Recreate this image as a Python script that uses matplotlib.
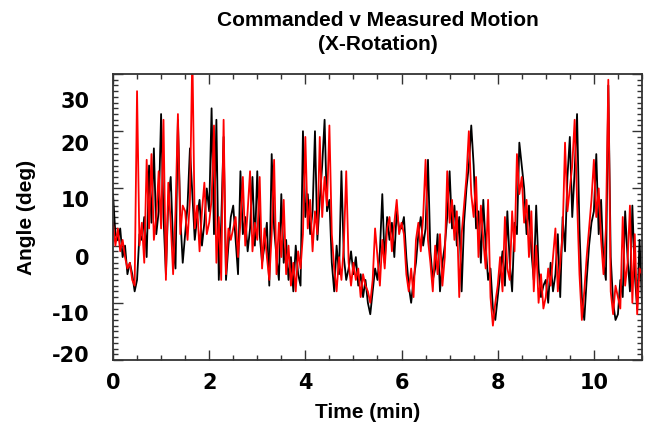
import numpy as np
import matplotlib
matplotlib.use("Agg")
import matplotlib.pyplot as plt
import matplotlib.transforms as mtransforms
from matplotlib.ticker import MultipleLocator

plt.rcParams["axes.unicode_minus"] = False

# angle samples every 0.05 min, 10 per half minute
commanded = [
    4, 0, 3, -1, 1, -2, -4, -3, -6, -7,
    27, 0, 4, -3, 15, 3, 16, 1, 5, 13,
    3, 22, -6, 11, 4, -5, 6, 23, 2, 7,
    6, 1, 8, 34, 3, 7, -1, 6, 11, 2,
    4, 8, 21, -3, 5, -6, 22, -5, 3, 1,
    3, 5, -2, 4, 12, 0, 6, 13, -1, 4,
    1, 12, -4, 3, -2, -6, 2, 15, -5, 4,
    -2, 8, -5, 0, -7, -3, -8, -1, -4, 2,
    19, 3, 8, -1, 6, 2, 19, 5, 12, 7,
    21, 2, -4, -8, -2, -6, 0, 13, -3, -7,
    -3, -6, -4, -9, -5, -7, -8, -10, -6, 3,
    -2, -7, 1, -4, 3, 5, -1, 4, 8, 2,
    4, 2, -5, -8, -4, -9, 1, 4, -1, 5,
    15, 1, -3, -8, 0, -5, 2, -7, -2, 13,
    4, 8, 1, 6, -9, 2, 7, 12, 20, 9,
    5, 12, -2, 7, 1, -4, 8, -9, -14, -10,
    -7, -2, -8, 5, -4, -6, 6, -1, 16, 9,
    12, 4, 8, -2, 6, -8, 0, -10, -5, -11,
    -9, -4, -7, -2, 3, -8, -3, 2, 18, 6,
    10, 14, 22, 8, -5, -13, -8, -2, 3, 8,
    15, 5, 10, 1, -5, 3, 29, -8, -12, -7,
    -9, -11, 5, -7, -3, 7, -10, 2, -12, -4,
    -5,
]
measured = [
    9, 2, 1, 3, -2, 0, -5, -3, -5, -8,
    -6, 2, 1, 5, -2, 14, 4, 17, 2, 6,
    23, 5, -5, 8, 12, 0, -4, 22, 5, -3,
    2, 7, 17, 9, 1, 5, 8, 0, 4, 10,
    6, 24, 2, 22, -6, 4, 19, -6, 0, 5,
    7, 1, -5, 13, 2, 5, -1, 3, 12, 0,
    13, 2, -3, 0, 4, -7, 16, 3, -2, -6,
    9, -3, 1, -6, -2, -8, 0, -5, -7, 20,
    5, 9, 2, 6, 20, 1, 8, 14, 22, 6,
    8, -3, -8, 0, -5, 13, -2, -6, -4, -1,
    -5, -2, -7, -5, -9, -6, -10, -12, -8, -4,
    -6, -1, 9, -3, 5, 1, 4, -2, 6, 3,
    3, 5, -2, -7, -10, -6, -3, 2, 5, 0,
    3, 15, -1, -6, -4, 2, -8, -3, 0, 5,
    13, 3, 7, 0, 5, -8, 4, 10, 14, 21,
    14, 3, 6, -3, 8, 0, -6, -4, -11, -13,
    -9, -5, -1, -7, 6, -3, -8, 4, 2, 18,
    14, 10, 2, 7, -1, -6, 7, -4, -9, -7,
    -6, -10, -3, -8, -5, 2, -9, 5, -1, 12,
    19, 5, 13, 23, 3, -9, -13, -6, 0, 4,
    6, 16, 2, 8, -3, -6, 28, -2, -10, -13,
    -12, -6, -9, 6, -2, -8, 7, -5, -11, 1,
    -10,
]
t = np.linspace(0, 11, len(commanded))

yticks = [-20, -10, 0, 10, 20, 30]
xticks = [0, 2, 4, 6, 8, 10]
# label shifts (px, downward) as placed in the original
ylabel_shift = [-6, 10, 11, 11, 12, 26]

fig = plt.figure(figsize=(6.45, 4.29), dpi=100)
ax = fig.add_axes([0.1752, 0.1608, 0.8201, 0.6667])

ax.plot(t, measured, color="black", lw=1.3)
ax.plot(t, commanded, color="red", lw=1.3)

ax.set_xlim(0, 11)
ax.set_ylim(-20, 30)
ax.set_xticks(xticks)
ax.set_yticks(yticks)
ax.xaxis.set_minor_locator(MultipleLocator(0.5))
ax.yaxis.set_minor_locator(MultipleLocator(1))
ax.tick_params(which="both", direction="in", top=True, right=True, width=1, color="#333333")
ax.tick_params(which="major", length=7)
ax.tick_params(which="minor", length=3.5)
ax.tick_params(axis="x", pad=9)
ax.tick_params(axis="y", pad=17)
for sp in ax.spines.values():
    sp.set_linewidth(1.3)
    sp.set_color("#333333")

for lab in ax.get_xticklabels() + ax.get_yticklabels():
    lab.set_fontfamily("DejaVu Sans")
    lab.set_fontweight("bold")
    lab.set_fontsize(15)

for tick, dy in zip(ax.yaxis.get_major_ticks(), ylabel_shift):
    off = mtransforms.ScaledTranslation(0, -dy / 100, fig.dpi_scale_trans)
    tick.label1.set_transform(tick.label1.get_transform() + off)

fig.text(378 / 645, 1 - 20 / 429, "Commanded v Measured Motion", ha="center", va="center",
         fontsize=15, fontweight="bold", family="Liberation Sans")
fig.text(378 / 645, 1 - 45 / 429, "(X-Rotation)", ha="center", va="center",
         fontsize=15, fontweight="bold", family="Liberation Sans")
fig.text(368 / 645, 1 - 413 / 429, "Time (min)", ha="center", va="center",
         fontsize=15, fontweight="bold", family="Liberation Sans")
fig.text(26 / 645, 1 - 217 / 429, "Angle (deg)", ha="center", va="center", rotation=90,
         fontsize=15, fontweight="bold", family="Liberation Sans")

fig.savefig("out.png", dpi=100)
